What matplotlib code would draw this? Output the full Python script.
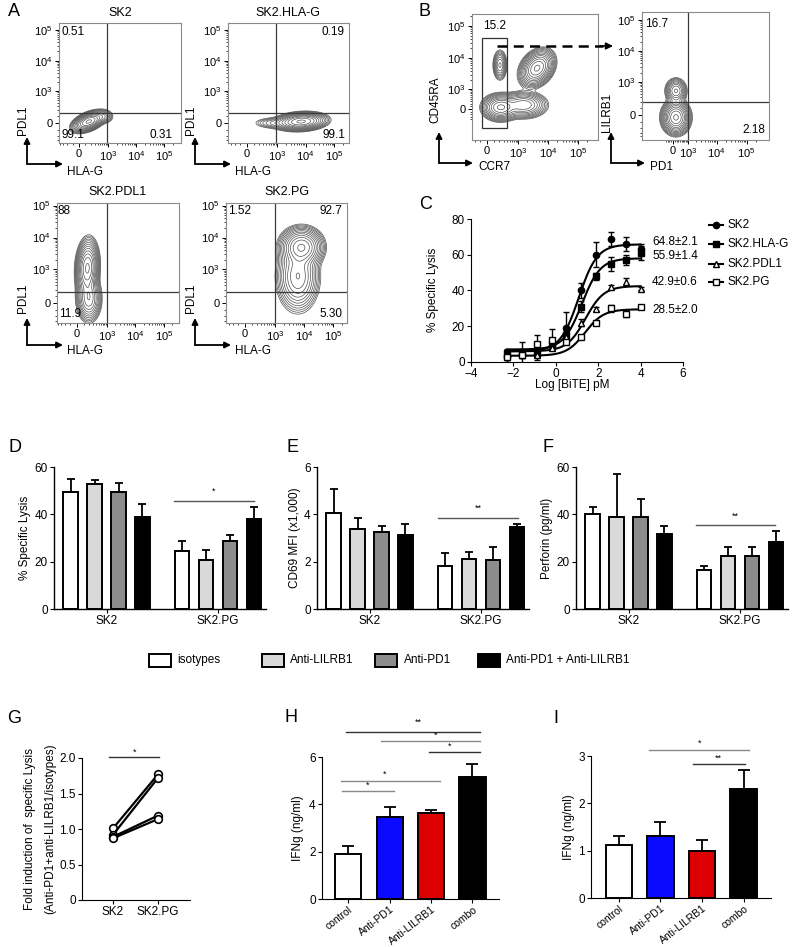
import numpy as np
import matplotlib
matplotlib.use('Agg')
import matplotlib.pyplot as plt
from matplotlib.patches import Rectangle, FancyArrowPatch
from matplotlib.lines import Line2D

plt.rcParams['font.family'] = ['Liberation Sans', 'DejaVu Sans']
plt.rcParams['mathtext.fontset'] = 'custom'
plt.rcParams['mathtext.rm'] = 'Liberation Sans'
plt.rcParams['font.size'] = 8

# ------------------------------------------------------------------ data
# flow cytometry: populations (x value, y value, x spread [decades], y spread [decades], corr, weight)
flow_ticks = [0, 1e3, 1e4, 1e5]
flow_ticklabels = ['0', r'$\mathregular{10^3}$', r'$\mathregular{10^4}$', r'$\mathregular{10^5}$']
pop_SK2 = [(160, 20, 0.24, 0.14, 0.5, 1.0), (700, 90, 0.15, 0.1, 0.0, 0.12)]
pop_SK2_HLAG = [(7000, 20, 0.36, 0.12, 0.15, 1.0), (800, 0, 0.35, 0.09, 0.0, 0.08)]
pop_SK2_PDL1 = [(170, 1100, 0.16, 0.36, 0.1, 1.0), (200, 60, 0.18, 0.3, 0.0, 0.45)]
pop_SK2_PG = [(8000, 5000, 0.3, 0.25, 0.0, 1.0), (6000, 600, 0.3, 0.45, 0.0, 0.5)]
pop_CD8 = [(4200, 4800, 0.23, 0.23, 0.3, 1.0), (220, 60, 0.25, 0.17, 0.0, 0.7),
           (1500, 150, 0.32, 0.17, 0.0, 0.45), (210, 6000, 0.1, 0.2, 0.0, 0.25)]
pop_naive = [(160, -30, 0.19, 0.22, 0.0, 1.0), (160, 500, 0.15, 0.17, 0.0, 0.35)]
gate_A_top = (900, 150)
gate_A_bottom = (1000, 150)
gate_B_right = (1000, 200)
gate_B_left = (-70, 400, -930, 42000)

# C: dose response
log_bite = [-2.3, -1.6, -0.9, -0.2, 0.5, 1.2, 1.9, 2.6, 3.3, 4.0]
lines_C = ['SK2', 'SK2.HLA-G', 'SK2.PDL1', 'SK2.PG']
lysis_C_SK2 = [3, 4, 4, 9, 19, 40, 60, 69, 66, 63]
lysis_C_SK2_err = [3, 7, 3, 2, 9, 4, 7, 4, 4, 3]
lysis_C_HLAG = [5, 5, 5, 10, 15, 31, 48, 55, 57, 61]
lysis_C_HLAG_err = [2, 2, 2, 2, 3, 3, 2, 4, 3, 4]
lysis_C_PDL1 = [4, 4, 4, 8, 14, 22, 29.5, 42, 45, 41]
lysis_C_PDL1_err = [1, 1, 1, 1, 1, 2, 1, 1, 2, 1]
lysis_C_PG = [3, 4, 10, 12.5, 11, 14, 22, 30, 27, 31]
lysis_C_PG_err = [2, 2, 5, 6, 1, 1, 1, 2, 2, 1]
fit_bottom = [6, 7, 6, 3.5]
fit_top = [65.8, 58, 42.5, 29.5]
fit_logec50 = [1.08, 1.23, 1.4, 1.38]
fit_hill = [1.0, 1.0, 1.0, 1.0]
top_labels_C = ['64.8±2.1', '55.9±1.4', '42.9±0.6', '28.5±2.0']

# D-F: blockade
cell_lines = ['SK2', 'SK2.PG']
conditions = ['isotypes', 'Anti-LILRB1', 'Anti-PD1', 'Anti-PD1 + Anti-LILRB1']
lysis_SK2 = [49.5, 53.0, 49.5, 39.0]
lysis_SK2_err = [5.4, 1.5, 3.7, 5.4]
lysis_PG = [24.5, 20.8, 28.6, 38.0]
lysis_PG_err = [4.1, 4.3, 2.7, 5.0]
cd69_SK2 = [4.07, 3.39, 3.27, 3.13]
cd69_SK2_err = [1.0, 0.45, 0.22, 0.47]
cd69_PG = [1.83, 2.13, 2.06, 3.45]
cd69_PG_err = [0.55, 0.28, 0.58, 0.14]
perforin_SK2 = [40.0, 38.9, 38.8, 31.5]
perforin_SK2_err = [3.1, 18.3, 7.5, 3.4]
perforin_PG = [16.3, 22.5, 22.6, 28.5]
perforin_PG_err = [1.7, 3.7, 3.6, 4.5]

# G
fold_SK2 = [1.01, 0.92, 0.89, 0.87]
fold_PG = [1.77, 1.72, 1.19, 1.14]

# H, I
treatments = ['control', 'Anti-PD1', 'Anti-LILRB1', 'combo']
ifng_H = [1.92, 3.45, 3.63, 5.15]
ifng_H_err = [0.30, 0.42, 0.13, 0.56]
ifng_I = [1.13, 1.30, 0.99, 2.31]
ifng_I_err = [0.18, 0.30, 0.24, 0.39]

# ------------------------------------------------------------------ helpers
W, H = 792, 947
fig = plt.figure(figsize=(W / 100, H / 100), dpi=100)


def fx(x):
    return x / W


def fy(y):
    return 1 - y / H


def add_ax(x0, y0, x1, y1):
    return fig.add_axes([x0 / W, 1 - y1 / H, (x1 - x0) / W, (y1 - y0) / H])


def ftext(x, y, s, **kw):
    fig.text(fx(x), fy(y), s, **kw)


def axis_arrows(cx, cy, top, right, ylab, ylab_x, ylab_y, xlab, xlab_x, xlab_y):
    for end in [(cx, top), (right, cy)]:
        fig.add_artist(FancyArrowPatch((fx(cx), fy(cy)), (fx(end[0]), fy(end[1])),
                                       transform=fig.transFigure, arrowstyle='-|>',
                                       mutation_scale=9, lw=1.3, color='k',
                                       shrinkA=0, shrinkB=0))
    ftext(ylab_x, ylab_y, ylab, rotation=90, ha='center', va='center', fontsize=8.5)
    ftext(xlab_x, xlab_y, xlab, ha='left', va='center', fontsize=8.5)


minor_vals = [-400, -300, -200, -100, 100, 200, 300, 400, 500, 600, 700, 800, 900] + \
    [k * 1e3 for k in range(2, 10)] + [k * 1e4 for k in range(2, 10)] + [2e5]
contour_fracs = np.geomspace(0.015, 0.92, 13)


def flow_panel(box, xspec, yspec, pops, quad=None):
    x0, y0, x1, y1 = box
    px0, dx, cx = xspec
    py0, dy, cy = yspec
    ax = add_ax(*box)

    def fwdx(v):
        return np.arcsinh(np.asarray(v, float) / cx) / np.log(10)

    def invx(t):
        return cx * np.sinh(np.asarray(t, float) * np.log(10))

    def fwdy(v):
        return np.arcsinh(np.asarray(v, float) / cy) / np.log(10)

    def invy(t):
        return cy * np.sinh(np.asarray(t, float) * np.log(10))

    ax.set_xscale('function', functions=(fwdx, invx))
    ax.set_yscale('function', functions=(fwdy, invy))
    txl = ((x0 - px0) / dx, (x1 - px0) / dx)
    tyl = ((py0 - y1) / dy, (py0 - y0) / dy)
    ax.set_xlim(invx(txl[0]), invx(txl[1]))
    ax.set_ylim(invy(tyl[0]), invy(tyl[1]))
    tx = np.linspace(txl[0], txl[1], 320)
    ty = np.linspace(tyl[0], tyl[1], 320)
    TX, TY = np.meshgrid(tx, ty)
    Z = np.zeros_like(TX)
    for (vx, vy, sx, sy, r, w) in pops:
        u = (TX - fwdx(vx)) / sx
        v = (TY - fwdy(vy)) / sy
        Z += w * np.exp(-(u * u - 2 * r * u * v + v * v) / (2 * (1 - r * r)))
    levels = Z.max() * contour_fracs
    ax.contour(invx(TX), invy(TY), Z, levels=levels, colors='#505050', linewidths=0.5)
    if quad is not None:
        ax.axvline(quad[0], color='#3a3a3a', lw=0.9)
        ax.axhline(quad[1], color='#3a3a3a', lw=0.9)
    ax.set_xticks(flow_ticks, flow_ticklabels)
    ax.set_yticks(flow_ticks, flow_ticklabels)
    xl = ax.get_xlim()
    yl = ax.get_ylim()
    ax.set_xticks([m for m in minor_vals if xl[0] < m < xl[1]], minor=True)
    ax.set_yticks([m for m in minor_vals if yl[0] < m < yl[1]], minor=True)
    ax.tick_params(which='major', length=3, width=0.7, pad=1.5, labelsize=8)
    ax.tick_params(which='minor', length=1.6, width=0.5)
    for s in ax.spines.values():
        s.set_color('#8a8a8a')
        s.set_linewidth(0.8)
    return ax


# ------------------------------------------------------------------ panel A
flow_panel((59, 23, 181, 143), (79, 28, 180), (123, 30.5, 180), pop_SK2, gate_A_top)
flow_panel((228, 23, 349, 143), (247, 28.7, 180), (123, 30.5, 180), pop_SK2_HLAG, gate_A_top)
flow_panel((57, 203, 179, 323), (77, 28.5, 180), (303, 32, 180), pop_SK2_PDL1, gate_A_bottom)
flow_panel((226, 203, 347, 323), (245, 29, 180), (303, 32, 180), pop_SK2_PG, gate_A_bottom)

ftext(120, 13, 'SK2', ha='center', va='center', fontsize=9)
ftext(288, 13, 'SK2.HLA-G', ha='center', va='center', fontsize=9)
ftext(118, 192, 'SK2.PDL1', ha='center', va='center', fontsize=9)
ftext(287, 192, 'SK2.PG', ha='center', va='center', fontsize=9)

ftext(61, 32, '0.51', ha='left', va='center', fontsize=8.5)
ftext(61, 135, '99.1', ha='left', va='center', fontsize=8.5)
ftext(173, 135, '0.31', ha='right', va='center', fontsize=8.5)
ftext(345, 32, '0.19', ha='right', va='center', fontsize=8.5)
ftext(345, 135, '99.1', ha='right', va='center', fontsize=8.5)
ftext(58, 211, '88', ha='left', va='center', fontsize=8.5)
ftext(59, 314, '11.9', ha='left', va='center', fontsize=8.5)
ftext(228, 211, '1.52', ha='left', va='center', fontsize=8.5)
ftext(342, 211, '92.7', ha='right', va='center', fontsize=8.5)
ftext(342, 314, '5.30', ha='right', va='center', fontsize=8.5)

axis_arrows(27, 164, 137, 63, 'PDL1', 23, 120, 'HLA-G', 67, 172)
axis_arrows(195, 164, 137, 231, 'PDL1', 191, 120, 'HLA-G', 235, 172)
axis_arrows(27, 345, 318, 63, 'PDL1', 23, 298, 'HLA-G', 67, 351)
axis_arrows(195, 345, 318, 231, 'PDL1', 191, 298, 'HLA-G', 235, 351)

# ------------------------------------------------------------------ panel B
axB = flow_panel((472, 14, 598, 140), (487, 30, 180), (109, 32, 510), pop_CD8)
gx0, gx1, gy0, gy1 = gate_B_left
axB.add_patch(Rectangle((gx0, gy0), gx1 - gx0, gy1 - gy0, fill=False, ec='#333333', lw=0.9))
ftext(483, 26, '15.2', ha='left', va='center', fontsize=8.5)
flow_panel((642, 12, 769, 140), (673, 30, 700), (115, 31, 171), pop_naive, gate_B_right)
ftext(645, 24, '16.7', ha='left', va='center', fontsize=8.5)
ftext(765, 130, '2.18', ha='right', va='center', fontsize=8.5)
fig.add_artist(Line2D([fx(497), fx(603)], [fy(46), fy(46)], ls=(0, (4, 2.5)), lw=1.8, color='k'))
fig.add_artist(FancyArrowPatch((fx(600), fy(46)), (fx(613), fy(46)), transform=fig.transFigure,
                               arrowstyle='-|>', mutation_scale=10, lw=1.2, color='k',
                               shrinkA=0, shrinkB=0))
axis_arrows(439, 163, 132, 473, 'CD45RA', 435, 100, 'CCR7', 478, 167)
axis_arrows(611, 163, 132, 645, 'LILRB1', 607, 112, 'PD1', 650, 167)

# ------------------------------------------------------------------ panel C
axC = add_ax(471, 219, 683, 362)
series_C = [lysis_C_SK2, lysis_C_HLAG, lysis_C_PDL1, lysis_C_PG]
errs_C = [lysis_C_SK2_err, lysis_C_HLAG_err, lysis_C_PDL1_err, lysis_C_PG_err]
markers_C = ['o', 's', '^', 's']
mfc_C = ['k', 'k', 'white', 'white']
xs_fit = np.linspace(min(log_bite), max(log_bite), 200)
for i in range(4):
    axC.errorbar(log_bite, series_C[i], yerr=errs_C[i], fmt='none', ecolor='k',
                 elinewidth=1.0, capsize=2.5, capthick=1.0, zorder=2)
    yfit = fit_bottom[i] + (fit_top[i] - fit_bottom[i]) / \
        (1 + 10 ** ((fit_logec50[i] - xs_fit) * fit_hill[i]))
    axC.plot(xs_fit, yfit, color='k', lw=1.5, zorder=3)
    axC.plot(log_bite, series_C[i], ls='none', marker=markers_C[i], mfc=mfc_C[i],
             mec='k', mew=1.0, ms=4.5, zorder=4)
axC.set_xlim(-4, 6)
axC.set_ylim(0, 80)
axC.set_xticks([-4, -2, 0, 2, 4, 6])
axC.set_yticks([0, 20, 40, 60, 80])
axC.spines['top'].set_visible(False)
axC.spines['right'].set_visible(False)
axC.tick_params(length=3, width=0.8, pad=1.5, labelsize=8.5)
ftext(433, 290, '% Specific Lysis', rotation=90, ha='center', va='center', fontsize=8.5)
ftext(572, 385, 'Log [BiTE] pM', ha='center', va='center', fontsize=8.5)
label_y_C = [242, 256, 282, 310]
for i in range(4):
    ftext(652, label_y_C[i], top_labels_C[i], ha='left', va='center', fontsize=8.5)
leg_y_C = [225, 244, 264, 282]
for i in range(4):
    fig.add_artist(Line2D([fx(709), fx(716), fx(723)], [fy(leg_y_C[i])] * 3, color='k', lw=1.5,
                          marker=markers_C[i], markevery=[1], mfc=mfc_C[i], mec='k', ms=4.5))
    ftext(727, leg_y_C[i], lines_C[i], ha='left', va='center', fontsize=8.5)

# ------------------------------------------------------------------ panels D-F
bar_colors = ['white', '#d9d9d9', '#8c8c8c', 'black']
group_gap = 4.65
offsets = np.array([-1.5, -0.5, 0.5, 1.5])


def bar_panel(box, vals_a, err_a, vals_b, err_b, ymax, yticks, ylabel, ylabel_x, sig):
    ax = add_ax(*box)
    for g, (vals, errs) in enumerate([(vals_a, err_a), (vals_b, err_b)]):
        xs = g * group_gap + offsets
        ax.bar(xs, vals, width=0.62, color=bar_colors, edgecolor='k', linewidth=1.4, zorder=2)
        ax.errorbar(xs, vals, yerr=[np.zeros(4), errs], fmt='none', ecolor='k',
                    elinewidth=1.3, capsize=3.2, capthick=1.3, zorder=1)
    ax.set_xlim(-2.19, group_gap + 2.0)
    ax.set_ylim(0, ymax)
    ax.set_yticks(yticks)
    ax.set_xticks([0, group_gap], cell_lines)
    ax.spines['top'].set_visible(False)
    ax.spines['right'].set_visible(False)
    for s in ['left', 'bottom']:
        ax.spines[s].set_linewidth(1.0)
    ax.tick_params(length=3, width=0.8, pad=1.5, labelsize=8.5)
    xa, xb, yl, star, ys = sig
    ax.plot([xa, xb], [yl, yl], color='#555555', lw=1.0, clip_on=False)
    ax.text((xa + xb) / 2, ys, star, ha='center', va='center', fontsize=6.5)
    ftext(ylabel_x, (box[1] + box[3]) / 2, ylabel, rotation=90, ha='center', va='center',
          fontsize=8.5)
    return ax


bar_panel((54, 467, 266, 609), lysis_SK2, lysis_SK2_err, lysis_PG, lysis_PG_err, 60,
          [0, 20, 40, 60], '% Specific Lysis', 25, (2.81, 6.14, 45.6, '*', 49.6))
bar_panel((317, 467, 529, 609), cd69_SK2, cd69_SK2_err, cd69_PG, cd69_PG_err, 6,
          [0, 2, 4, 6], 'CD69 MFI (x1,000)', 295, (2.85, 6.19, 3.85, '**', 4.27))
bar_panel((576, 467, 788, 609), perforin_SK2, perforin_SK2_err, perforin_PG, perforin_PG_err, 60,
          [0, 20, 40, 60], 'Perforin (pg/ml)', 547, (2.81, 6.1, 35.5, '**', 39.2))

leg_box_x = [149, 262, 375, 478]
leg_text_x = [177, 290, 404, 506]
for i in range(4):
    fig.add_artist(Rectangle((fx(leg_box_x[i]), fy(667)), 22 / W, 13 / H, transform=fig.transFigure,
                             facecolor=bar_colors[i], edgecolor='k', lw=1.4))
    ftext(leg_text_x[i], 660, conditions[i], ha='left', va='center', fontsize=8.5)

# ------------------------------------------------------------------ panel G
axG = add_ax(82, 758, 190, 900)
for a, b in zip(fold_SK2, fold_PG):
    axG.plot([0, 1], [a, b], color='k', lw=1.6, marker='o', mfc='white', mec='k', mew=1.2, ms=5.5)
axG.set_xlim(-0.69, 1.71)
axG.set_ylim(0, 2.0)
axG.set_yticks([0, 0.5, 1.0, 1.5, 2.0], ['0', '0.5', '1.0', '1.5', '2.0'])
axG.set_xticks([0, 1], cell_lines)
axG.spines['top'].set_visible(False)
axG.spines['right'].set_visible(False)
axG.tick_params(length=3, width=0.8, pad=1.5, labelsize=8.5)
axG.plot([-0.09, 1.02], [2.02, 2.02], color='#333333', lw=1.0, clip_on=False)
axG.text(0.47, 2.08, '*', ha='center', va='center', fontsize=6.5)
ftext(30, 829, 'Fold induction of  specific Lysis', rotation=90, ha='center', va='center', fontsize=8.5)
ftext(50, 829, '(Anti-PD1+anti-LILRB1/isotypes)', rotation=90, ha='center', va='center', fontsize=8.5)

# ------------------------------------------------------------------ panels H, I
treat_colors = ['white', '#0a0aff', '#dd0000', 'black']


def ifng_panel(box, vals, errs, ymax, yticks, xlim, sigs, ylabel_x):
    ax = add_ax(*box)
    xs = np.arange(4)
    ax.bar(xs, vals, width=0.63, color=treat_colors, edgecolor='k', linewidth=1.4, zorder=2)
    ax.errorbar(xs, vals, yerr=[np.zeros(4), errs], fmt='none', ecolor='k',
                elinewidth=1.3, capsize=4.5, capthick=1.3, zorder=1)
    ax.set_xlim(*xlim)
    ax.set_ylim(0, ymax)
    ax.set_yticks(yticks)
    ax.set_xticks(xs)
    ax.set_xticklabels(treatments, rotation=38, ha='right', rotation_mode='anchor', fontsize=7.5)
    ax.spines['top'].set_visible(False)
    ax.spines['right'].set_visible(False)
    ax.tick_params(length=3, width=0.8, pad=1.5)
    ax.tick_params(axis='y', labelsize=8.5)
    ax.tick_params(axis='x', pad=1)
    for (xa, xb, yl, star, xs_, ys_, col) in sigs:
        ax.plot([xa, xb], [yl, yl], color=col, lw=1.0, clip_on=False)
        ax.text(xs_, ys_, star, ha='center', va='center', fontsize=6.5, clip_on=False)
    ftext(ylabel_x, (box[1] + box[3]) / 2, 'IFNg (ng/ml)', rotation=90, ha='center',
          va='center', fontsize=8.5)


ifng_panel((322, 757, 499, 899), ifng_H, ifng_H_err, 6, [0, 2, 4, 6], (-0.63, 3.64),
           [(-0.05, 3.18, 7.06, '**', 1.69, 7.46, '#333333'),
            (0.8, 3.18, 6.68, '*', 2.12, 6.93, '#888888'),
            (1.95, 3.18, 6.21, '*', 2.46, 6.46, '#333333'),
            (-0.17, 2.22, 4.99, '*', 0.89, 5.26, '#888888'),
            (-0.14, 1.11, 4.56, '*', 0.48, 4.80, '#888888')], 298)
ifng_panel((591, 756, 771, 898), ifng_I, ifng_I_err, 3, [0, 1, 2, 3], (-0.67, 3.66),
           [(0.72, 3.13, 3.13, '*', 1.95, 3.27, '#888888'),
            (1.78, 3.04, 2.83, '**', 2.4, 2.96, '#333333')], 569)

# ------------------------------------------------------------------ panel letters
for letter, x, y in [('A', 8, 11), ('B', 418, 11), ('C', 419, 204), ('D', 8, 448), ('E', 287, 448),
                     ('F', 543, 448), ('G', 7, 718), ('H', 285, 717), ('I', 553, 718)]:
    ftext(x, y, letter, ha='left', va='center', fontsize=13)

fig.savefig('out.png', dpi=100)
